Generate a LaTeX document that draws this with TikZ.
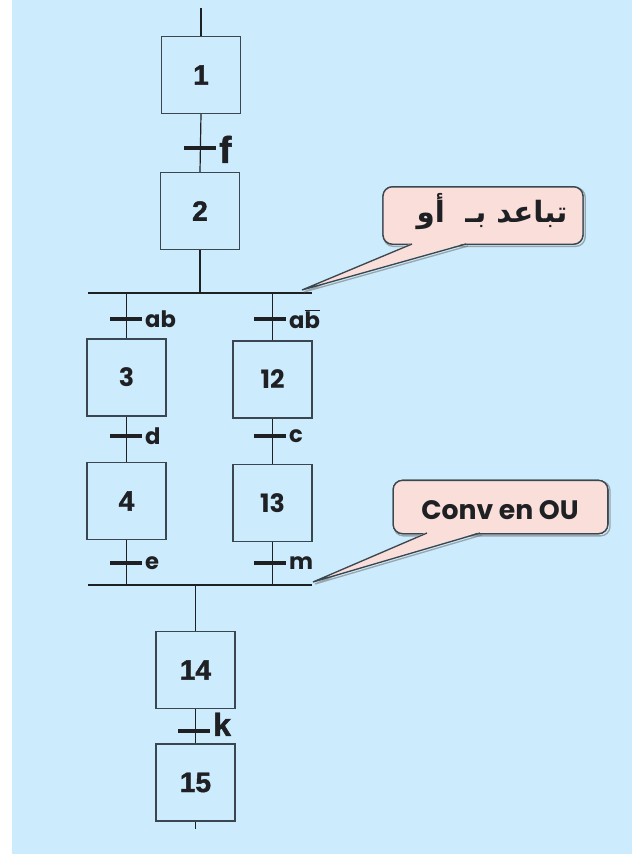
\documentclass[tikz,border=0pt]{standalone}
\usepackage{fontspec}
\setmainfont{Liberation Sans}
\newfontfamily\stepfont{Liberation Sans}[BoldFeatures={FakeBold=1.5}]
\newfontfamily\comicfont{Poppins}
\newfontfamily\arabicfont[Script=Arabic]{DejaVu Sans}
\TeXXeTstate=1
\definecolor{sheet}{RGB}{204,235,252}
\definecolor{ink}{RGB}{30,32,36}
\definecolor{boxline}{RGB}{58,70,80}
\definecolor{notefill}{RGB}{250,222,218}
\definecolor{noteshade}{RGB}{120,120,120}
\begin{document}
\begin{tikzpicture}[x=0.75pt,y=-0.75pt,
  stepbox/.style={draw=boxline, line width=1.1pt, minimum width=59pt, minimum height=57.5pt, inner sep=0pt,
                  font=\stepfont\fontsize{21}{23}\selectfont\bfseries, text=ink},
  cstep/.style={stepbox, font=\comicfont\fontsize{19}{21}\selectfont\bfseries},
  link/.style={draw=ink, line width=0.9pt},
  tbar/.style={fill=ink, minimum width=24pt, minimum height=3.2pt, inner sep=0pt},
  hbar/.style={fill=ink, minimum width=168pt, minimum height=1.5pt, inner sep=0pt},
  cond/.style={anchor=west, inner sep=2pt, text=ink, font=\comicfont\fontsize{17}{19}\selectfont\bfseries},
  bigcond/.style={anchor=west, inner sep=2pt, text=ink, font=\stepfont\fontsize{28}{30}\selectfont\bfseries},
  note/.style={draw=boxline, line width=1pt, fill=notefill, rounded corners=7pt, inner sep=0pt},
  noteedge/.style={draw=boxline, line width=1pt, line join=miter},
  shade/.style={draw=noteshade, line width=1pt, opacity=0.6}
]
% sheet
\useasboundingbox (0,0) rectangle (642,854);
\fill[sheet] (12,0) rectangle (632,854);

% steps
\node[stepbox] (s1)  at (201,75)    {1};
\node[stepbox] (s2)  at (200,211)   {2};
\node[cstep]   (s3)  at (126.5,377.5) {3};
\node[cstep]   (s12) at (272.5,379.5) {12};
\node[stepbox] (s4)  at (126.5,501) {4};
\node[cstep]   (s13) at (272.5,503) {13};
\node[stepbox] (s14) at (195.5,670) {14};
\node[stepbox] (s15) at (195.5,782.5) {15};

% divergence and convergence bars
\node[hbar] (div) at (200,293) {};
\node[hbar] (conv) at (200,585) {};

% entry and exit lines
\coordinate (entry) at (201,8);
\coordinate (exit) at (195.5,829);
\draw[link] (entry) -- (s1.north);
\draw[link] (s15.south) -- (exit);

% links between steps
\draw[link] (s1.south) -- (s2.north);
\draw[link] (s2.south) -- (s2.south |- div.center);
\draw[link] (s3.north |- div.center) -- (s3.north);
\draw[link] (s12.north |- div.center) -- (s12.north);
\draw[link] (s3.south) -- (s4.north);
\draw[link] (s12.south) -- (s13.north);
\draw[link] (s4.south) -- (s4.south |- conv.center);
\draw[link] (s13.south) -- (s13.south |- conv.center);
\draw[link] (s14.north |- conv.center) -- (s14.north);
\draw[link] (s14.south) -- (s15.north);

% transitions
\node[tbar] (tf)  at (200,148) {};
\node[tbar] (tab) at (126,319) {};
\node[tbar] (tnb) at (270,319) {};
\node[tbar] (td)  at (126,436) {};
\node[tbar] (tc)  at (270,436) {};
\node[tbar] (te)  at (126,563) {};
\node[tbar] (tm)  at (270,563) {};
\node[tbar] (tk)  at (194,731) {};

\node[bigcond] (lf) at ([yshift=-1pt]tf.east) {f};
\node[cond] (lab) at (tab.east) {ab};
\node[cond] (lnb) at (tnb.east) {a$\overline{\mbox{b}}$};
\node[cond] (ld)  at (td.east) {d};
\node[cond] (lc)  at (tc.east) {c};
\node[cond] (le)  at (te.east) {e};
\node[cond] (lm)  at (tm.east) {m};
\node[bigcond, font=\stepfont\fontsize{24}{26}\selectfont\bfseries] (lk) at ([yshift=5pt]tk.east) {k};

% callout: divergence in OR
\coordinate (tipA) at (302,290);
\node[note, minimum width=150pt, minimum height=43pt] (noteA) at (483,215.5) {};
\draw[shade, rounded corners=7pt] ([shift={(1.5,1.5)}]noteA.south west) rectangle ([shift={(1.5,1.5)}]noteA.north east);
\draw[shade] (415,246) -- (304,292) -- (468,246);
\node[note, minimum width=150pt, minimum height=43pt] at (noteA) {};
\fill[notefill] (412,243) -- (tipA) -- (466,243) -- cycle;
\draw[noteedge] (412,244) -- (tipA) -- (466,244);
\node[font=\arabicfont\fontsize{22}{24}\selectfont\bfseries, text=ink] at (492,212) {\beginR تباعد بـ\ \ أو\endR};

% callout: convergence in OR
\coordinate (tipB) at (313,582);
\node[note, minimum width=161pt, minimum height=40pt] (noteB) at (500.5,507) {};
\draw[shade, rounded corners=7pt] ([shift={(1.5,1.5)}]noteB.south west) rectangle ([shift={(1.5,1.5)}]noteB.north east);
\draw[shade] (430,535) -- (315,584) -- (482,535);
\node[note, minimum width=161pt, minimum height=40pt] at (noteB) {};
\fill[notefill] (427,532) -- (tipB) -- (480,532) -- cycle;
\draw[noteedge] (427,533) -- (tipB) -- (480,533);
\node[font=\comicfont\fontsize{20}{22}\selectfont\bfseries, text=ink] at (500,510) {Conv en OU};
\end{tikzpicture}
\end{document}
